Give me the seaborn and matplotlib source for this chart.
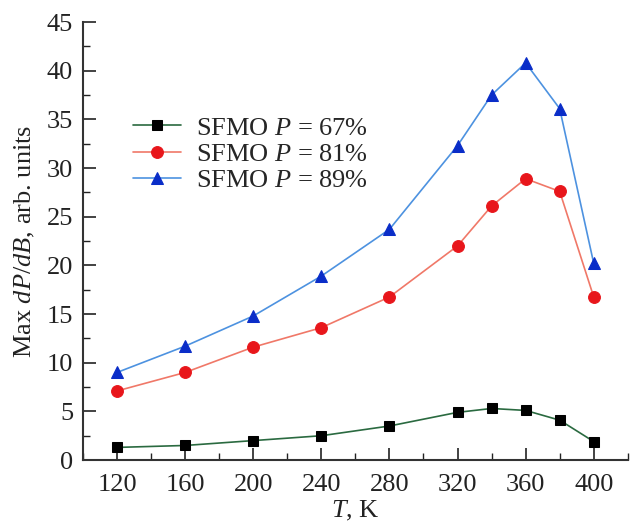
import numpy as np
import pandas as pd
import matplotlib
matplotlib.use("Agg")
import matplotlib.pyplot as plt
from matplotlib.ticker import MultipleLocator
import seaborn as sns

# Temperatures, K
T = [120, 160, 200, 240, 280, 320, 340, 360, 380, 400]

# Max dP/dB, arb. units
p67 = [1.3, 1.5, 2.0, 2.5, 3.5, 4.9, 5.3, 5.1, 4.1, 1.9]
p81 = [7.1, 9.0, 11.6, 13.6, 16.75, 22.0, 26.1, 28.9, 27.6, 16.75]
p89 = [9.0, 11.7, 14.8, 18.9, 23.7, 32.3, 37.5, 40.8, 36.1, 20.2]

labels = ["SFMO $P$ = 67%", "SFMO $P$ = 81%", "SFMO $P$ = 89%"]

sns.set_style("ticks")
plt.rcParams['font.family'] = ['Liberation Serif', 'DejaVu Serif']
plt.rcParams['mathtext.fontset'] = 'custom'
plt.rcParams['mathtext.rm'] = 'Liberation Serif'
plt.rcParams['mathtext.it'] = 'Liberation Serif:italic'

fig = plt.figure(figsize=(6.38, 5.24), dpi=100)
# axes box: x 83..628 px, y 22..460 px
ax = fig.add_axes([0.130, 0.122, 0.854, 0.836])

Data = pd.DataFrame({"T": T, "p67": p67, "p81": p81, "p89": p89})

# column, line colour, marker, marker colour, marker size
styles = [
    ("p67", "#2a6a40", "s", "black", 7),
    ("p81", "#f07868", "o", "#e8161b", 8.5),
    ("p89", "#4d92e0", "^", "#0a2dc8", 9),
]

for (col, lc, mk, mc, ms), lab in zip(styles, labels):
    sns.lineplot(data=Data, x="T", y=col, ax=ax, color=lc, lw=1.2,
                 marker=mk, markersize=ms, markerfacecolor=mc,
                 markeredgecolor=mc, label=lab)

ax.set_xlim(100, 420)
ax.set_ylim(0, 45)
ax.set_xticks(np.arange(120, 401, 40))
ax.xaxis.set_minor_locator(MultipleLocator(20))
ax.yaxis.set_major_locator(MultipleLocator(5))
ax.yaxis.set_minor_locator(MultipleLocator(2.5))
ax.tick_params(which='major', direction='in', length=9, width=1.2, pad=7,
               labelsize=19, colors='#222222')
ax.tick_params(axis='x', which='major', pad=10)
ax.tick_params(which='minor', direction='in', length=5, width=1.0, colors='#222222')
for s in ['left', 'bottom']:
    ax.spines[s].set_linewidth(1.5)
    ax.spines[s].set_color('#333333')
sns.despine(ax=ax)

ax.set_xlabel("$T$, K", fontsize=19, labelpad=2, color='#222222')
ax.set_ylabel("Max $dP/dB$, arb. units", fontsize=19, labelpad=7, color='#222222')

ax.legend(loc='upper left', bbox_to_anchor=(0.092, 0.785), frameon=False,
          fontsize=19, handlelength=1.8, handletextpad=0.6, labelspacing=0.1,
          borderpad=0, borderaxespad=0)

plt.savefig("out.png", dpi=100)
